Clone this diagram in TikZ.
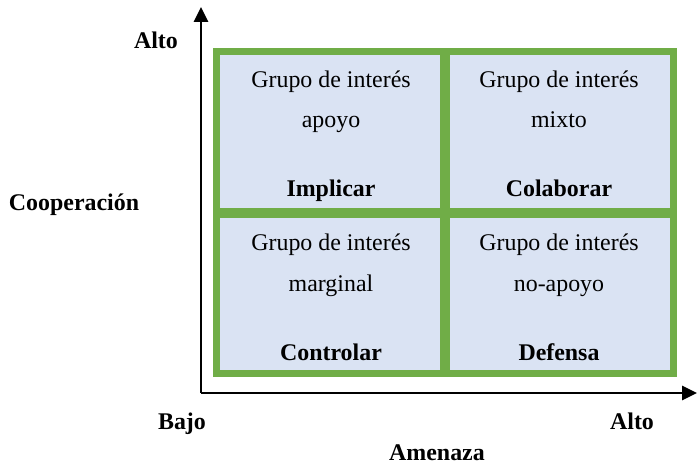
\documentclass[tikz,border=0pt]{standalone}
\usepackage{fontspec}
\setmainfont{Liberation Serif}
\usepackage{tikz}
\usetikzlibrary{arrows.meta, positioning}

\definecolor{cellfill}{HTML}{DAE3F3}
\definecolor{gridgreen}{HTML}{70AD47}

\tikzset{
	celltext/.style={anchor=base, inner sep=0pt, font=\fontsize{17}{20}\selectfont},
	cellhead/.style={celltext, font=\fontsize{17}{20}\selectfont\bfseries},
	axislabel/.style={cellhead},
	axisline/.style={line width=1.3pt, -{Triangle[length=10.5pt, width=10pt]}}
}

\begin{document}
\begin{tikzpicture}[x=0.025cm, y=-0.025cm]
	\useasboundingbox				(0,0) rectangle (697,466);
	\fill[cellfill]					(216.5,51.5) rectangle (673.7,373.7);
	\draw[gridgreen, line width=6.8pt]		(445,51.5) -- (445,373.7);
	\draw[gridgreen, line width=6.8pt]		(216.5,212.8) -- (673.7,212.8);
	\draw[gridgreen, line width=4.8pt]		(216.5,51.5) rectangle (673.7,373.7);

	\coordinate (o)		at (201,393);
	\coordinate (ytop)	at (201,7);
	\coordinate (xend)	at (697,393);
	\draw[axisline]					(o) -- (ytop);
	\draw[axisline]					(o) -- (xend);

	\node[celltext] (g1)	at (331,87.5)	{Grupo de interés};
	\node[celltext] (t1)	at (331,127.7)	{apoyo};
	\node[cellhead] (h1)	at (331,196.7)	{Implicar};
	\node[celltext] (g2)	at (559,87.5)	{Grupo de interés};
	\node[celltext] (t2)	at (559,127.7)	{mixto};
	\node[cellhead] (h2)	at (559,196.7)	{Colaborar};
	\node[celltext] (g3)	at (331,250.7)	{Grupo de interés};
	\node[celltext] (t3)	at (331,291.7)	{marginal};
	\node[cellhead] (h3)	at (331,360)	{Controlar};
	\node[celltext] (g4)	at (559,250.7)	{Grupo de interés};
	\node[celltext] (t4)	at (559,291.7)	{no-apoyo};
	\node[cellhead] (h4)	at (559,360)	{Defensa};

	\node[axislabel] (yhigh)	at (156,48.3)	{Alto};
	\node[axislabel] (ytitle)	at (74,210)	{Cooperación};
	\node[axislabel] (xlow)		at (182,429)	{Bajo};
	\node[axislabel] (xhigh)	at (632,429)	{Alto};
	\node[axislabel] (xtitle)	at (437,460)	{Amenaza};
\end{tikzpicture}
\end{document}
